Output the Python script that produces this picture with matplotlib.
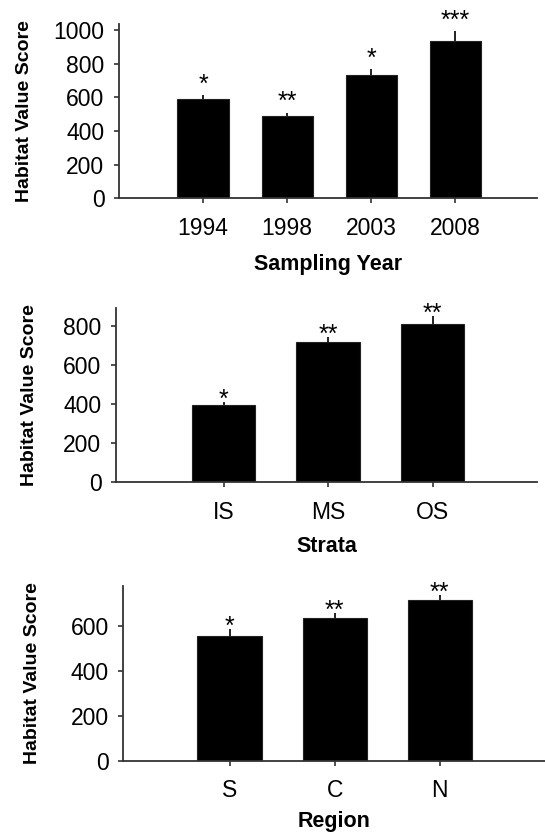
import numpy as np
import matplotlib
matplotlib.use("Agg")
import matplotlib.pyplot as plt

plt.rcParams['font.family'] = ['Liberation Sans', 'DejaVu Sans']

# Habitat value score by sampling year
years = ['1994', '1998', '2003', '2008']
year_scores = [588, 491, 733, 936]
year_err = [25, 18, 35, 58]
year_sig = ['*', '**', '*', '***']

# Habitat value score by strata
strata = ['IS', 'MS', 'OS']
strata_scores = [395, 718, 810]
strata_err = [17, 27, 41]
strata_sig = ['*', '**', '**']

# Habitat value score by region
regions = ['S', 'C', 'N']
region_scores = [558, 635, 716]
region_err = [32, 25, 25]
region_sig = ['*', '**', '**']

W, H = 545, 833
fig = plt.figure(figsize=(W / 100, H / 100), dpi=100)


def make_ax(left, right, top, bottom):
    return fig.add_axes([left / W, 1 - bottom / H, (right - left) / W, (bottom - top) / H])


def draw_panel(ax, labels, scores, errs, sig, xlabel, ymax, yticks, xlim, star_off,
               xlabel_pad, ylabel_pad):
    x = np.arange(len(labels))
    ax.bar(x, scores, width=0.61, color='black', edgecolor='#222222', linewidth=0.8, zorder=2)
    ax.errorbar(x, scores, yerr=[np.zeros(len(errs)), errs], fmt='none',
                ecolor='#222222', elinewidth=1.4, capsize=0, zorder=3)
    for xi, s, e, st in zip(x, scores, errs, sig):
        ax.annotate(st, xy=(xi, s + e), xytext=(0, star_off), textcoords='offset points',
                    ha='center', va='baseline', fontsize=18, color='black')
    ax.set_xlim(*xlim)
    ax.set_ylim(0, ymax)
    ax.set_yticks(yticks)
    ax.set_xticks(x)
    ax.set_xticklabels(labels)
    ax.spines['top'].set_visible(False)
    ax.spines['right'].set_visible(False)
    for sp in ('left', 'bottom'):
        ax.spines[sp].set_color('#333333')
        ax.spines[sp].set_linewidth(1.3)
    ax.tick_params(axis='both', direction='out', length=3.5, width=1.2, color='#333333',
                   labelsize=16.5)
    ax.tick_params(axis='y', pad=7)
    ax.tick_params(axis='x', pad=10)
    ax.set_ylabel('Habitat Value Score', fontsize=14, fontweight='bold', labelpad=ylabel_pad)
    ax.set_xlabel(xlabel, fontsize=15.5, fontweight='bold', labelpad=xlabel_pad)


ax1 = make_ax(119, 537, 24, 198.3)
draw_panel(ax1, years, year_scores, year_err, year_sig, 'Sampling Year',
           1035, [0, 200, 400, 600, 800, 1000], (-1.0, 3.97), 2.5, 10, 15)

ax2 = make_ax(116, 537, 308.3, 482)
draw_panel(ax2, strata, strata_scores, strata_err, strata_sig, 'Strata',
           890, [0, 200, 400, 600, 800], (-1.03, 3.0), -3.5, 9, 18)

ax3 = make_ax(123.3, 545, 586, 760.7)
draw_panel(ax3, regions, region_scores, region_err, region_sig, 'Region',
           780, [0, 200, 400, 600], (-1.01, 3.0), -3.5, 6.5, 21)

fig.savefig('out.png', dpi=100)
